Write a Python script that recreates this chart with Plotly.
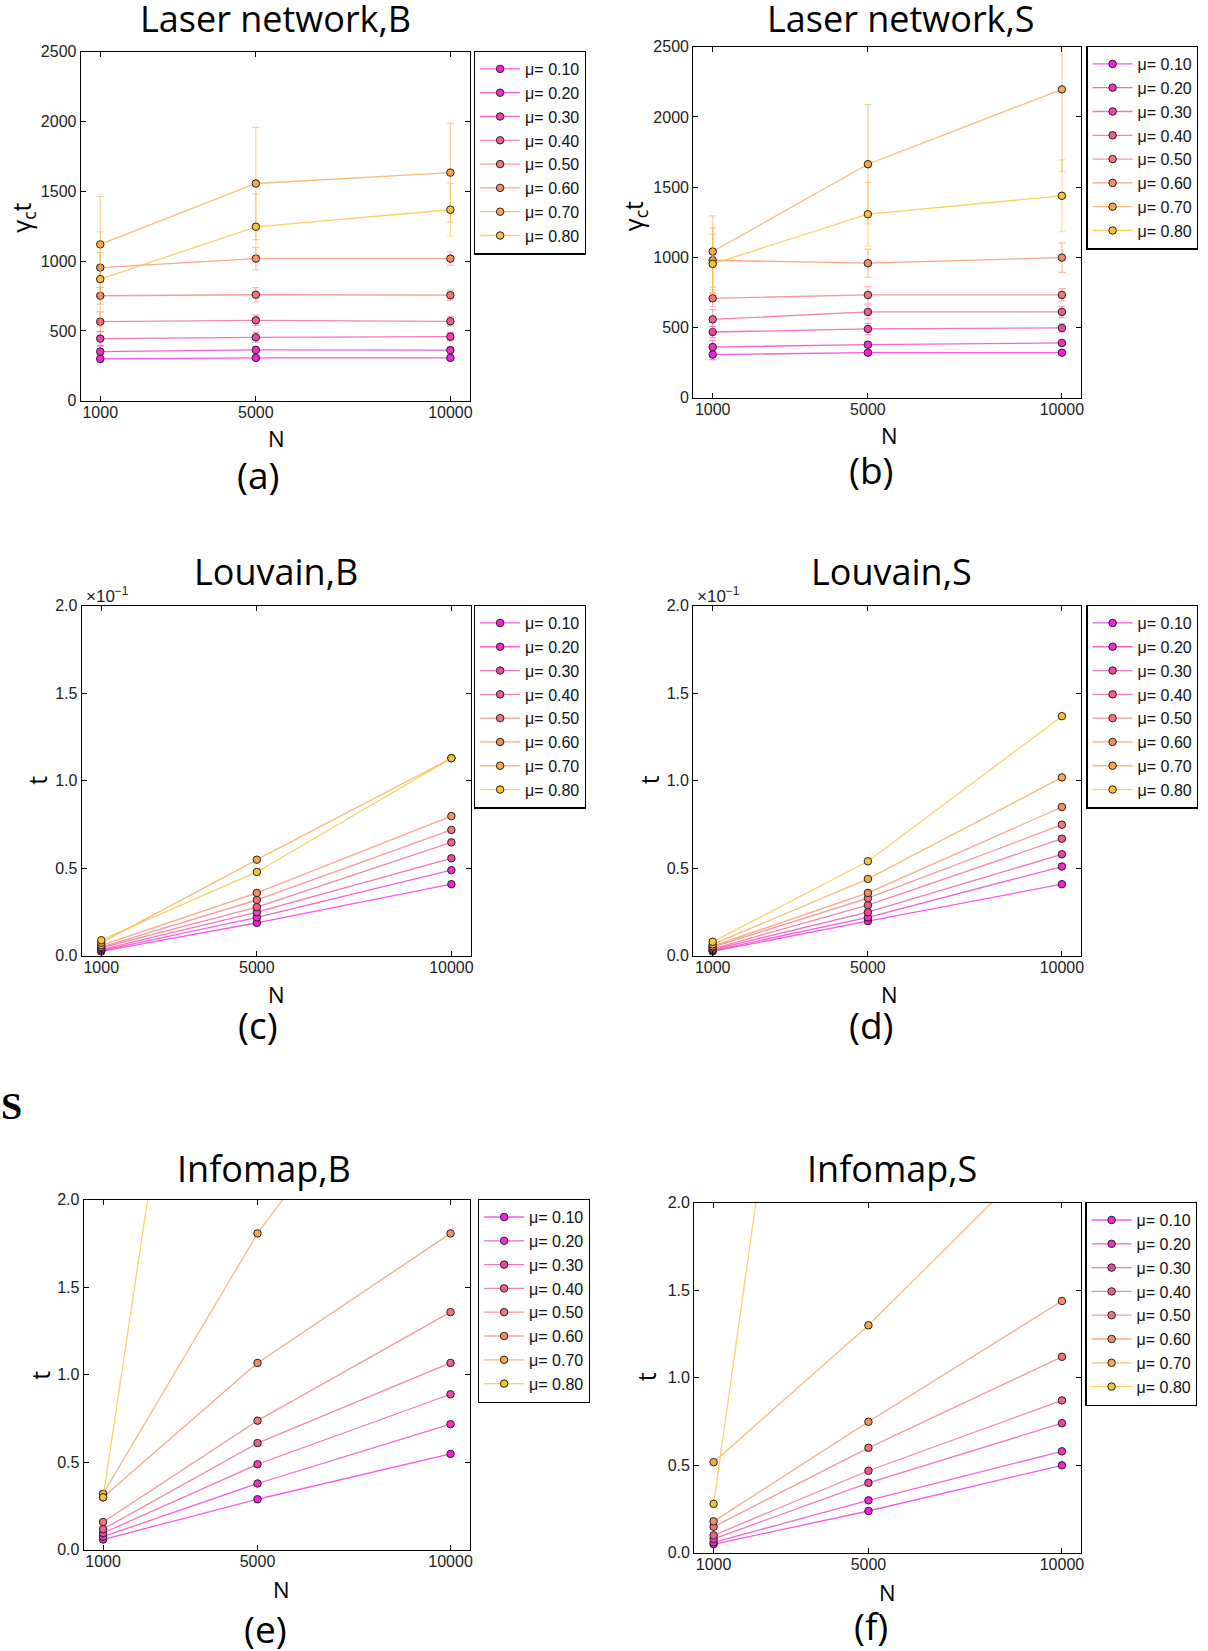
import plotly.graph_objects as go

W, H = 1208, 1651

# ---------------- data ----------------
N = [1000, 5000, 10000]
mu_labels = ["μ= 0.10", "μ= 0.20", "μ= 0.30", "μ= 0.40",
             "μ= 0.50", "μ= 0.60", "μ= 0.70", "μ= 0.80"]

laser_B = [
    [300, 307, 307],
    [352, 364, 362],
    [445, 454, 459],
    [566, 576, 569],
    [752, 759, 756],
    [954, 1018, 1018],
    [1120, 1556, 1634],
    [871, 1246, 1368],
]
laser_B_err = [
    [28, 15, 15],
    [40, 22, 20],
    [50, 35, 30],
    [70, 37, 33],
    [60, 52, 36],
    [107, 80, 48],
    [343, 402, 355],
    [340, 236, 188],
]
laser_S = [
    [307, 321, 321],
    [361, 378, 390],
    [468, 490, 497],
    [558, 611, 611],
    [708, 732, 732],
    [979, 958, 998],
    [1041, 1663, 2196],
    [953, 1307, 1438],
]
laser_S_err = [
    [35, 15, 15],
    [45, 20, 20],
    [40, 40, 30],
    [70, 50, 40],
    [60, 59, 45],
    [230, 100, 105],
    [254, 424, 585],
    [211, 226, 256],
]
# Louvain values in units of 1e-1
louvain_B = [
    [0.025, 0.188, 0.409],
    [0.030, 0.219, 0.489],
    [0.035, 0.249, 0.557],
    [0.045, 0.278, 0.648],
    [0.050, 0.319, 0.719],
    [0.060, 0.359, 0.798],
    [0.075, 0.549, 1.129],
    [0.089, 0.479, 1.129],
]
louvain_S = [
    [0.025, 0.198, 0.409],
    [0.030, 0.219, 0.510],
    [0.035, 0.249, 0.580],
    [0.040, 0.289, 0.669],
    [0.050, 0.329, 0.749],
    [0.055, 0.359, 0.850],
    [0.065, 0.439, 1.019],
    [0.080, 0.540, 1.369],
]
infomap_B = [
    [0.059, 0.289, 0.548],
    [0.075, 0.379, 0.718],
    [0.096, 0.489, 0.889],
    [0.118, 0.610, 1.068],
    [0.159, 0.738, 1.358],
    [0.300, 1.068, 1.808],
    [0.320, 1.808, 3.290],
    [0.300, 6.200, 12.00],
]
infomap_S = [
    [0.049, 0.239, 0.500],
    [0.060, 0.300, 0.580],
    [0.080, 0.400, 0.741],
    [0.100, 0.469, 0.871],
    [0.149, 0.600, 1.120],
    [0.180, 0.749, 1.439],
    [0.518, 1.300, 2.400],
    [0.280, 6.580, 13.00],
]

titles = ["Laser network,B", "Laser network,S", "Louvain,B", "Louvain,S",
          "Infomap,B", "Infomap,S"]
panel_labels = ["(a)", "(b)", "(c)", "(d)", "(e)", "(f)"]
ylabels = ["γ<sub>c</sub>t", "γ<sub>c</sub>t", "t", "t", "t", "t"]
x_ticks = [1000, 5000, 10000]
x_ticktext = ["1000", "5000", "10000"]

# ---------------- styles ----------------
colors = [(245, 31, 224), (242, 47, 196), (240, 68, 168), (240, 93, 142),
          (244, 117, 120), (246, 140, 98), (247, 166, 75), (248, 194, 50)]

def rgba(c, a):
    return "rgba(%d,%d,%d,%.2f)" % (c[0], c[1], c[2], a)

TICKFONT = "Liberation Sans"
TEXTFONT = "Open Sans"

def Y(y):
    # vertical placement correction
    return 800 + (y - 800) * 1.0105

# panel geometry in pixels: (left, right, top, bottom)
boxes = [
    (81, 471, 52, 401),
    (695, 1084, 47, 398),
    (82, 472, 606, 956),
    (695, 1084, 606, 956),
    (84, 471, 1200, 1550),
    (696, 1084, 1203, 1553),
]
legend_pos = [(475, 51), (1089, 46), (475, 605), (1089, 605), (479, 1199), (1088, 1202)]
title_pos = [(276, 19), (903, 19), (277, 572), (894, 572), (265, 1169), (894, 1169)]
plabel_pos = [(259, 475), (873, 470), (259, 1025), (873, 1025), (266, 1629), (873, 1626)]
xlab_pos = [(277, 438), (892, 435), (277, 994), (892, 994), (282, 1589), (890, 1592)]
ylab_pos = [(23, 218), (636, 216), (37, 780), (650, 780), (40, 1375), (647, 1377)]

panels = [
    (laser_B, laser_B_err, [0, 2500], 500, None),
    (laser_S, laser_S_err, [0, 2500], 500, None),
    (louvain_B, None, [0, 2.0], 0.5, ".1f"),
    (louvain_S, None, [0, 2.0], 0.5, ".1f"),
    (infomap_B, None, [0, 2.0], 0.5, ".1f"),
    (infomap_S, None, [0, 2.0], 0.5, ".1f"),
]

fig = go.Figure()
layout = dict(
    width=W, height=H,
    margin=dict(l=0, r=0, t=0, b=0),
    paper_bgcolor="white", plot_bgcolor="white",
    showlegend=True,
)
annotations = []

def px(x):
    return x / W

def py(y):
    return 1 - Y(y) / H

for i, (vals, errs, yr, dt, fmt) in enumerate(panels):
    k = "" if i == 0 else str(i + 1)
    xa, ya = "x" + k, "y" + k
    lg = "legend" + k
    for j in range(8):
        tr = dict(
            x=N, y=vals[j], mode="lines+markers", name=mu_labels[j],
            xaxis=xa, yaxis=ya, legend=lg,
            line=dict(color=rgba(colors[j], 0.75), width=1.3),
            marker=dict(color=rgba(colors[j], 1), size=7.5,
                        line=dict(color="#222", width=1)),
        )
        if errs is not None:
            tr["error_y"] = dict(type="data", array=errs[j], visible=True,
                                 color=rgba(colors[j], 0.55), thickness=1.2, width=3.5)
        fig.add_trace(go.Scatter(**tr))
    l, r, t, b = boxes[i]
    axcommon = dict(showline=True, linecolor="black", linewidth=1.3, mirror="allticks",
                    ticks="inside", ticklen=5, tickcolor="black", showgrid=False,
                    zeroline=False, tickfont=dict(family=TICKFONT, size=16, color="#222"))
    layout["xaxis" + k] = dict(domain=[px(l), px(r)], range=[500, 10500], anchor=ya,
                               tickvals=x_ticks, ticktext=x_ticktext,
                               ticklabelstandoff=-3, **axcommon)
    yax = dict(domain=[py(b), py(t)], range=yr, anchor=xa, dtick=dt, tick0=0, **axcommon)
    if fmt:
        yax["tickformat"] = fmt
    layout["yaxis" + k] = yax
    lx, ly = legend_pos[i]
    layout[lg] = dict(x=px(lx), y=py(ly), xanchor="left", yanchor="top",
                      bordercolor="black", borderwidth=1.3, bgcolor="white",
                      font=dict(family=TICKFONT, size=16, color="#111"),
                      itemwidth=40)
    tx, ty = title_pos[i]
    annotations.append(dict(x=px(tx), y=py(ty), xref="paper", yref="paper", text=titles[i],
                            showarrow=False, xanchor="center", yanchor="middle",
                            font=dict(family=TEXTFONT, size=36, color="black")))
    tx, ty = plabel_pos[i]
    annotations.append(dict(x=px(tx), y=py(ty), xref="paper", yref="paper",
                            text=panel_labels[i], showarrow=False,
                            xanchor="center", yanchor="middle",
                            font=dict(family=TEXTFONT, size=37, color="black")))
    tx, ty = xlab_pos[i]
    annotations.append(dict(x=px(tx), y=py(ty), xref="paper", yref="paper", text="N",
                            showarrow=False, xanchor="center", yanchor="middle",
                            font=dict(family=TEXTFONT, size=22, color="black")))
    tx, ty = ylab_pos[i]
    annotations.append(dict(x=px(tx), y=py(ty), xref="paper", yref="paper", text=ylabels[i],
                            showarrow=False, xanchor="center", yanchor="middle", textangle=-90,
                            font=dict(family=TEXTFONT, size=25, color="black")))
    if i in (2, 3):
        annotations.append(dict(x=px(l + 2), y=py(t + 2), xref="paper", yref="paper",
                                text="×10<sup>−1</sup>", showarrow=False,
                                xanchor="left", yanchor="bottom",
                                font=dict(family=TICKFONT, size=17, color="#222")))

annotations.append(dict(x=px(12), y=py(1106), xref="paper", yref="paper", text="<b>S</b>",
                        showarrow=False, xanchor="center", yanchor="middle",
                        font=dict(family="Liberation Serif", size=38, color="black",
                                  weight="bold")))

layout["annotations"] = annotations
fig.update_layout(**layout)
fig.write_html("out.html")
